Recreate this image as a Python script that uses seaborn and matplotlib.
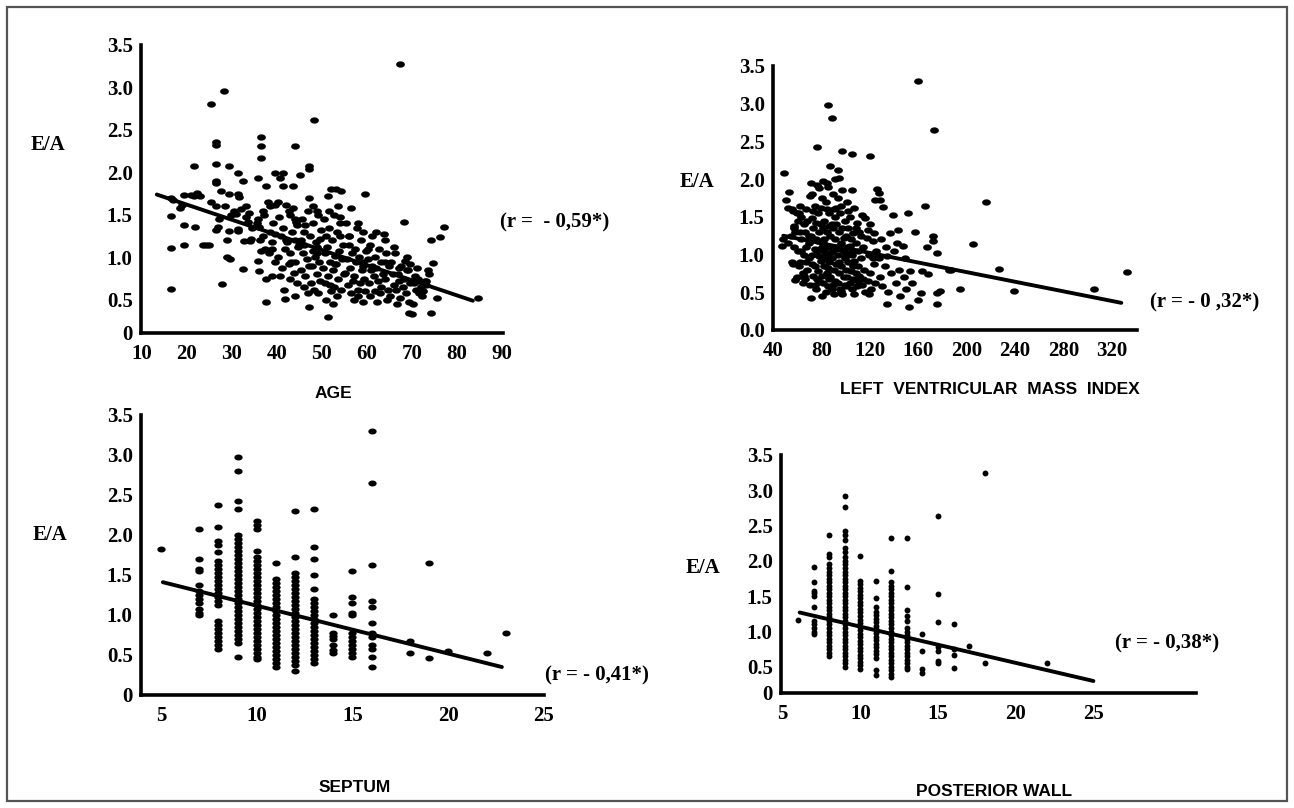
import numpy as np
import pandas as pd
import matplotlib
matplotlib.use("Agg")
import matplotlib.pyplot as plt
import seaborn as sns

# =========================
# painel 1: idade x E/A
# =========================
idade = [
    16.4, 16.4, 16.4, 16.4, 18.5, 18.8, 19.3, 19.4, 19.3, 17.0,
    21.5, 21.5, 22.3, 23.0, 21.8, 23.5, 24.2, 24.8, 21.0,
    25.3, 28.3, 26.4, 26.4, 26.4, 26.4, 26.4, 25.3, 26.4, 26.8, 26.4, 28.9, 28.9, 29.6, 27.9, 29.3, 29.3, 27.5, 28.5, 29.3, 27.2, 29.8,
    31.4, 32.5, 31.3, 31.6, 33.2, 31.4, 31.4, 33.2, 32.6, 34.0, 32.5, 33.5, 34.5, 30.5, 34.2, 32.0, 30.8, 33.8,
    35.7, 35.9, 36.5, 36.5, 36.5, 35.7, 37.6, 39.5, 37.6, 36.0, 38.4, 37.0, 35.8, 39.2, 38.5, 36.8, 39.0, 37.3, 36.5, 38.2,
    39.6, 37.5, 38.8, 36.2, 39.5, 39.5, 38.0, 37.2, 35.5, 38.9,
    41.3, 40.6, 41.3, 43.6, 44.1, 41.7, 43.9, 42.7, 40.5, 44.2, 41.3, 43.4, 40.9, 42.1, 44.6, 41.8, 43.0, 40.3, 42.6, 44.0,
    41.1, 43.7, 40.7, 42.9, 44.4, 41.5, 43.0, 44.0, 44.5, 40.2, 42.0, 43.5, 44.0, 44.8, 43.2, 42.3,
    45.2, 47.2, 47.2, 48.3, 47.2, 47.2, 46.8, 49.2, 45.6, 48.1, 46.3, 49.7, 47.4, 45.3, 48.7, 46.0, 49.0, 47.9, 45.8, 48.4,
    46.6, 49.4, 47.1, 45.4, 48.9, 46.2, 49.6, 47.6, 45.9, 48.2, 46.9, 49.1, 48.0, 49.0, 49.5, 46.0, 48.8, 47.8,
    51.3, 52.0, 54.3, 53.0, 51.3, 52.7, 50.4, 54.1, 51.6, 53.3, 50.9, 52.2, 54.7, 51.1, 53.8, 50.6, 52.9, 54.4, 51.8, 53.1,
    50.2, 52.4, 54.8, 51.4, 53.6, 50.7, 52.6, 54.2, 51.9, 53.4, 50.8, 52.5, 54.0, 53.5, 51.5, 54.0, 52.8, 51.8,
    59.5, 56.5, 55.4, 57.8, 59.2, 56.1, 58.6, 55.9, 57.3, 59.7, 56.7, 58.2, 55.6, 57.6, 59.1, 56.3, 58.9, 55.2, 57.1, 59.4,
    56.8, 58.4, 55.7, 57.9, 59.6, 56.4, 58.1, 57.2, 59.0, 58.0, 56.0, 59.0,
    63.8, 61.2, 63.9, 60.6, 62.7, 64.3, 61.8, 60.2, 63.2, 64.8, 62.1, 60.9, 63.6, 61.5, 64.1, 62.4, 60.4, 63.0, 64.6, 61.7,
    62.9, 60.7, 64.4, 62.2, 60.2, 62.0, 64.0, 61.0,
    68.3, 68.5, 68.8, 70.0, 69.3, 66.2, 68.9, 65.4, 67.6, 69.1, 66.8, 65.7, 68.2, 67.1, 69.6, 65.9, 67.9, 66.4, 68.6, 65.2,
    67.3, 69.4, 66.6, 67.4, 69.5, 67.0, 66.0,
    77.2, 76.1, 74.2, 74.6, 73.5, 84.6, 75.5, 74.2, 71.3, 72.8, 70.4, 73.2, 71.9, 70.9, 72.4, 73.7, 70.6, 71.6, 72.1, 73.0,
    70.2, 71.2,
]
ea_idade = [
    0.63, 1.11, 1.49, 1.70, 1.58, 1.62, 1.38, 1.15, 1.73, 1.68,
    2.07, 1.72, 1.76, 1.72, 1.36, 1.15, 1.14, 1.15, 1.74,
    2.80, 2.96, 2.36, 2.32, 2.10, 1.90, 1.87, 1.65, 1.60, 1.36, 1.32, 1.21, 1.01, 0.98, 0.69, 2.07, 1.75, 1.78, 1.60, 1.31, 1.45, 1.50,
    1.99, 1.90, 1.75, 1.71, 1.60, 1.33, 1.31, 1.47, 1.19, 1.19, 0.86, 1.42, 1.35, 1.55, 1.22, 1.57, 1.51, 1.52,
    0.96, 0.84, 2.42, 2.31, 2.17, 1.93, 1.84, 1.99, 0.47, 1.36, 1.30, 1.25, 1.45, 1.40, 1.60, 1.55, 1.10, 1.10, 1.08, 1.05,
    0.95, 0.75, 0.78, 1.20, 1.28, 1.62, 1.65, 1.50, 1.40, 1.18,
    1.99, 1.93, 1.84, 1.84, 2.31, 0.51, 0.55, 1.55, 1.48, 1.42, 1.35, 1.30, 1.25, 1.20, 1.12, 1.10, 1.05, 1.00, 0.92, 0.95,
    0.88, 0.82, 0.78, 0.75, 0.70, 0.62, 1.50, 1.45, 1.38, 1.65, 1.62, 1.58, 1.20, 1.15, 0.95, 1.18,
    1.97, 2.07, 2.04, 2.62, 1.70, 0.42, 1.55, 1.50, 1.45, 1.40, 1.38, 1.32, 1.25, 1.20, 1.18, 1.15, 1.12, 1.08, 1.05, 1.00,
    0.98, 0.95, 0.90, 0.85, 0.80, 0.78, 0.72, 0.70, 0.65, 0.62, 0.58, 0.58, 1.60, 1.55, 1.22, 1.30, 1.05, 0.90,
    1.72, 1.80, 1.78, 1.80, 0.30, 1.50, 1.45, 1.40, 1.35, 1.30, 1.25, 1.20, 1.15, 1.12, 1.08, 1.05, 1.02, 0.98, 0.95, 0.92,
    0.88, 0.85, 0.80, 0.78, 0.75, 0.70, 0.65, 0.62, 0.60, 0.55, 0.50, 0.45, 1.48, 1.60, 1.55, 1.25, 0.92, 0.68,
    1.75, 1.58, 1.40, 1.35, 1.30, 1.25, 1.20, 1.15, 1.10, 1.08, 1.05, 1.00, 0.98, 0.95, 0.90, 0.88, 0.85, 0.82, 0.78, 0.75,
    0.72, 0.70, 0.68, 0.62, 0.60, 0.58, 0.55, 0.50, 0.48, 1.40, 1.25, 0.95,
    1.27, 1.25, 1.20, 1.15, 1.10, 1.05, 1.00, 0.98, 0.95, 0.90, 0.88, 0.85, 0.80, 0.78, 0.75, 0.72, 0.70, 0.65, 0.62, 0.60,
    0.58, 0.55, 0.50, 0.48, 1.10, 1.30, 0.95, 0.90,
    1.42, 0.96, 0.85, 0.33, 0.35, 1.05, 1.00, 0.95, 0.90, 0.85, 0.80, 0.80, 0.75, 0.72, 0.70, 0.68, 0.65, 0.62, 0.58, 0.55,
    0.52, 0.48, 0.45, 3.28, 0.92, 0.88, 1.12,
    1.36, 1.24, 1.21, 0.93, 0.85, 0.52, 0.52, 0.35, 0.75, 0.72, 0.70, 0.68, 0.65, 0.62, 0.60, 0.80, 0.78, 0.58, 0.55, 0.72,
    0.45, 0.88,
]

# =========================
# painel 2: índice de massa do VE x E/A
# =========================
massa = [
    47, 48, 49, 50, 52, 53, 55, 56, 57, 57, 58, 55, 56, 58, 59, 59, 54, 57, 52, 60, 60,
    61, 62, 62, 63, 63, 64, 64, 65, 65, 66, 66, 67, 67, 68, 68, 69, 69, 70, 70, 61, 63, 65, 67, 69, 62,
    71, 71, 72, 72, 73, 73, 74, 74, 75, 75, 76, 76, 76, 77, 77, 78, 78, 79, 79, 80, 80, 80, 71, 72, 73, 74, 75, 76, 77, 78,
    79, 80, 72, 78, 74,
    81, 81, 81, 82, 82, 83, 83, 83, 84, 84, 85, 85, 85, 85, 86, 86, 87, 87, 87, 88, 88, 88, 89, 89, 89, 90, 90, 90, 81, 82,
    83, 84, 86, 86, 87, 89, 84, 88, 82, 85,
    91, 91, 91, 92, 92, 93, 93, 93, 94, 94, 94, 95, 95, 96, 96, 97, 97, 97, 97, 98, 98, 99, 99, 99, 100, 100, 91, 92, 93, 95,
    96, 98, 100, 94, 100, 96, 92,
    101, 101, 101, 102, 102, 103, 103, 104, 104, 105, 105, 105, 105, 106, 106, 107, 107, 108, 108, 109, 109, 110, 110, 102,
    104, 106, 108, 110, 103, 107,
    111, 111, 112, 113, 113, 114, 115, 116, 116, 117, 118, 119, 120, 120, 120, 121, 122, 123, 124, 124, 125, 112, 114, 118,
    122, 119, 123,
    126, 127, 127, 128, 129, 130, 131, 132, 133, 134, 135, 136, 137, 139, 140, 141, 143, 144, 145, 147, 148, 150, 151, 153,
    149, 128, 134, 142,
    152, 155, 157, 160, 162, 163, 165, 167, 168, 172, 172, 173, 175, 175, 175, 178, 185, 187, 194, 160,
    205, 216, 227, 239, 305, 333,
]
ea_massa = [
    1.12, 1.20, 2.08, 1.72, 1.62, 1.83, 1.60, 1.58, 1.35, 1.38, 1.30, 0.90, 0.88, 0.66, 0.70, 1.55, 1.25, 1.10, 1.15, 1.45, 1.05,
    0.85, 0.90, 1.65, 1.50, 1.20, 0.62, 0.75, 1.40, 1.00, 1.30, 0.68, 1.60, 1.10, 0.80, 1.45, 1.25, 0.95, 1.78, 0.60, 1.55,
    1.05, 0.72, 0.90, 1.15, 1.30,
    1.95, 0.43, 1.48, 1.00, 1.35, 0.72, 1.65, 0.85, 1.20, 0.55, 2.42, 1.92, 1.05, 1.55, 0.78, 1.30, 0.65, 1.40, 0.92, 1.75,
    1.10, 0.45, 1.25, 0.88, 1.58, 1.08, 1.42, 0.68, 1.18, 0.98, 1.62, 0.72, 1.80, 1.88, 0.60,
    1.98, 1.15, 0.62, 1.45, 0.85, 1.70, 1.00, 0.50, 1.30, 0.75, 2.98, 1.90, 1.10, 0.58, 1.55, 0.90, 2.17, 1.25, 0.70, 2.81,
    1.40, 0.95, 1.80, 1.05, 0.60, 1.60, 0.80, 0.48, 1.35, 1.20, 0.95, 1.60, 1.38, 0.68, 1.02, 1.35, 1.95, 0.55, 1.05, 0.82,
    2.00, 1.20, 0.65, 1.40, 0.88, 2.12, 1.75, 1.00, 2.01, 1.30, 0.75, 1.55, 0.55, 1.15, 0.85, 2.37, 1.85, 1.35, 0.48, 1.05,
    0.70, 1.45, 0.95, 0.60, 1.25, 0.80, 1.50, 1.10, 0.62, 1.08, 1.65, 1.22, 1.00, 0.90, 0.58, 0.52, 1.62,
    1.70, 1.10, 0.70, 1.35, 0.90, 1.50, 0.62, 1.20, 0.78, 2.33, 1.85, 1.00, 0.55, 1.28, 0.68, 1.62, 0.92, 1.15, 0.75, 1.42,
    0.58, 1.05, 0.85, 1.58, 1.02, 0.85, 1.35, 0.65, 1.12, 0.48,
    1.30, 0.72, 0.95, 1.52, 0.60, 1.10, 0.80, 1.49, 0.50, 1.22, 0.65, 1.00, 2.31, 1.40, 0.75, 0.55, 1.18, 0.88, 1.73, 0.62,
    1.05, 1.25, 0.68, 1.32, 0.95, 0.48, 1.28,
    1.87, 1.81, 0.95, 1.73, 1.20, 0.58, 1.63, 0.85, 1.10, 0.34, 0.50, 1.28, 0.75, 1.52, 1.05, 0.62, 1.33, 0.80, 0.45, 1.12,
    0.70, 0.55, 1.55, 0.78, 0.95, 0.70, 0.98, 1.15,
    0.30, 0.62, 1.30, 3.30, 0.49, 0.78, 1.64, 1.10, 0.74, 1.24, 1.18, 2.65, 1.02, 0.49, 0.35, 0.52, 0.79, 0.80, 0.55, 0.40,
    1.14, 1.70, 0.81, 0.52, 0.55, 0.77,
]

# =========================
# painel 3: septo (valores inteiros, uma coluna por valor)
# =========================
septo_valores = [5, 7, 8, 9, 10, 11, 12, 13, 14, 15, 16, 18, 19, 20, 22, 23]
septo_ea = [
    [1.83],
    [2.08, 1.70, 1.58, 1.55, 1.37, 1.30, 1.25, 1.20, 1.15, 1.08, 1.02, 1.00],
    [2.37, 2.10, 1.93, 1.87, 1.79, 1.68, 1.63, 1.58, 1.53, 1.48, 1.43, 1.38, 1.33, 1.28, 1.23, 1.18, 1.13,
     0.92, 0.87, 0.82, 0.77, 0.72, 0.67, 0.62, 0.58],
    [2.97, 2.80, 2.43, 2.32, 2.00, 1.95, 1.90, 1.85, 1.80, 1.75, 1.70, 1.65, 1.60, 1.55, 1.50, 1.45, 1.40,
     1.35, 1.30, 1.25, 1.20, 1.15, 1.10, 1.05, 1.00, 0.95, 0.90, 0.85, 0.80, 0.75, 0.70, 0.65, 0.47],
    [2.17, 2.12, 2.07, 1.80, 1.73, 1.68, 1.63, 1.58, 1.53, 1.48, 1.43, 1.38, 1.33, 1.28, 1.23, 1.18, 1.13,
     1.08, 1.03, 0.98, 0.93, 0.88, 0.83, 0.78, 0.73, 0.68, 0.63, 0.58, 0.53, 0.48, 0.45],
    [1.65, 1.45, 1.40, 1.35, 1.30, 1.25, 1.20, 1.15, 1.10, 1.05, 1.00, 0.95, 0.90, 0.85, 0.80, 0.75, 0.70,
     0.65, 0.60, 0.55, 0.50, 0.45, 0.40, 0.35],
    [2.30, 1.72, 1.52, 1.47, 1.42, 1.37, 1.32, 1.27, 1.22, 1.17, 1.12, 1.07, 1.02, 0.97, 0.92, 0.87, 0.82,
     0.77, 0.72, 0.67, 0.62, 0.57, 0.52, 0.47, 0.42, 0.37, 0.30],
    [2.33, 1.85, 1.70, 1.50, 1.32, 1.20, 1.15, 1.10, 1.05, 1.00, 0.95, 0.90, 0.85, 0.80, 0.75, 0.70, 0.65,
     0.60, 0.55, 0.50, 0.45, 0.40],
    [1.00, 0.78, 0.74, 0.70, 0.62, 0.56, 0.52],
    [1.55, 1.22, 1.15, 1.03, 1.00, 0.78, 0.73, 0.68, 0.63, 0.58, 0.52, 0.48],
    [3.30, 2.65, 1.62, 1.18, 1.10, 0.90, 0.78, 0.72, 0.62, 0.58, 0.48, 0.35],
    [0.68, 0.52],
    [1.65, 0.46],
    [0.55],
    [0.52],
    [0.77],
]

# =========================
# painel 4: parede posterior (valores inteiros)
# =========================
parede_valores = [6, 7, 8, 9, 10, 11, 12, 13, 14, 15, 16, 17, 18, 22]
parede_ea = [
    [1.17],
    [1.92, 1.70, 1.58, 1.55, 1.50, 1.35, 1.15, 1.10, 1.05, 1.00, 0.97],
    [2.37, 2.10, 2.05, 1.95, 1.90, 1.85, 1.80, 1.75, 1.70, 1.65, 1.60, 1.55, 1.50, 1.45, 1.40, 1.35, 1.30,
     1.25, 1.20, 1.15, 1.10, 1.05, 1.00, 0.95, 0.90, 0.85, 0.80, 0.75, 0.70, 0.66],
    [2.92, 2.77, 2.43, 2.37, 2.30, 2.18, 2.13, 2.05, 2.00, 1.95, 1.90, 1.85, 1.80, 1.75, 1.70, 1.65, 1.60,
     1.55, 1.50, 1.45, 1.40, 1.35, 1.30, 1.25, 1.20, 1.15, 1.10, 1.05, 1.00, 0.95, 0.90, 0.85, 0.80, 0.75,
     0.70, 0.65, 0.60, 0.55, 0.50],
    [2.07, 1.72, 1.67, 1.62, 1.57, 1.52, 1.47, 1.42, 1.37, 1.32, 1.27, 1.22, 1.17, 1.12, 1.07, 1.02, 0.97,
     0.92, 0.87, 0.82, 0.77, 0.72, 0.67, 0.62, 0.57, 0.52, 0.47],
    [1.72, 1.47, 1.35, 1.28, 1.23, 1.18, 1.13, 1.08, 1.03, 0.98, 0.93, 0.88, 0.83, 0.78, 0.73, 0.68, 0.62,
     0.45, 0.38],
    [2.32, 1.86, 1.70, 1.65, 1.60, 1.55, 1.50, 1.45, 1.40, 1.35, 1.30, 1.25, 1.20, 1.15, 1.10, 1.05, 1.00,
     0.95, 0.90, 0.85, 0.80, 0.75, 0.70, 0.65, 0.60, 0.55, 0.50, 0.45, 0.40, 0.35],
    [2.33, 1.63, 1.30, 1.22, 1.15, 1.05, 1.00, 0.95, 0.90, 0.85, 0.80, 0.75, 0.70, 0.65, 0.60, 0.55, 0.50,
     0.47],
    [0.97, 0.72, 0.47, 0.42],
    [2.63, 1.53, 1.13, 0.78, 0.73, 0.58, 0.55],
    [1.10, 0.75, 0.67, 0.48],
    [0.80],
    [3.25, 0.55],
    [0.55],
]

# retas de regressão (extremos)
reta_idade_x = [13.3, 83.5]
reta_idade_y = [1.74, 0.49]
reta_massa_x = [48, 328]
reta_massa_y = [1.25, 0.36]
reta_septo_x = [5.1, 22.8]
reta_septo_y = [1.41, 0.35]
reta_parede_x = [6.1, 25.0]
reta_parede_y = [1.27, 0.30]

# =========================
# montagem das tabelas
# =========================
df_idade = pd.DataFrame({"x": idade, "ea": ea_idade})
df_massa = pd.DataFrame({"x": massa, "ea": ea_massa})


def colunas_para_df(valores, listas):
    xs, ys = [], []
    for v, lista in zip(valores, listas):
        xs += [v] * len(lista)
        ys += lista
    return pd.DataFrame({"x": xs, "ea": ys})


df_septo = colunas_para_df(septo_valores, septo_ea)
df_parede = colunas_para_df(parede_valores, parede_ea)

# =========================
# estilo
# =========================
sns.set_style("white")
plt.rcParams["text.color"] = "black"
plt.rcParams["axes.labelcolor"] = "black"
plt.rcParams["xtick.color"] = "black"
plt.rcParams["ytick.color"] = "black"
serif = "Liberation Serif"
sans = "Liberation Sans"

W, H = 1294, 808
fig = plt.figure(figsize=(W / 100, H / 100), dpi=100)


def caixa(esq, dir, topo, base):
    return [esq / W, 1 - base / H, (dir - esq) / W, (base - topo) / H]


def texto(x, y, s, **kw):
    fig.text(x / W, 1 - y / H, s, color="black", **kw)


# marcador em forma de elipse (pontos achatados como no original)
t = np.linspace(0, 2 * np.pi, 24)
elipse = list(zip(np.cos(t), 0.72 * np.sin(t)))


def painel(pos, df, reta_x, reta_y, xlim, ylim, xticks, yticks, ylabels, tam, marcador, fs=15):
    ax = fig.add_axes(pos)
    sns.scatterplot(data=df, x="x", y="ea", ax=ax, color="black", s=tam,
                    marker=marcador, linewidth=0, legend=False)
    sns.lineplot(x=reta_x, y=reta_y, ax=ax, color="black", linewidth=2.8,
                 estimator=None, sort=False)
    ax.set_xlim(*xlim)
    ax.set_ylim(*ylim)
    ax.set_xticks(xticks)
    ax.set_xticklabels([str(v) for v in xticks], fontfamily=serif,
                       fontweight="bold", fontsize=fs, color="black")
    ax.set_yticks(yticks)
    ax.set_yticklabels(ylabels, fontfamily=serif, fontweight="bold",
                       fontsize=fs, color="black")
    ax.set_xlabel("")
    ax.set_ylabel("")
    for lado in ["top", "right"]:
        ax.spines[lado].set_visible(False)
    for lado in ["left", "bottom"]:
        ax.spines[lado].set_linewidth(2.6)
        ax.spines[lado].set_color("black")
    ax.tick_params(axis="x", direction="out", length=5, width=2.2, pad=3, colors="black")
    ax.tick_params(axis="y", direction="out", length=3, width=2.2, pad=3, colors="black")
    ax.patch.set_visible(False)
    return ax


rot_y = ["0.5", "1.0", "1.5", "2.0", "2.5", "3.0", "3.5"]
val_y = [0.5, 1.0, 1.5, 2.0, 2.5, 3.0, 3.5]

# painel 1
painel(caixa(141, 503, 45, 333), df_idade, reta_idade_x, reta_idade_y,
       (9.8, 90.2), (0.11, 3.5), list(range(10, 100, 10)),
       [0.11] + val_y, ["0"] + rot_y, 40, elipse)

# painel 2
painel(caixa(773, 1137, 66, 330), df_massa, reta_massa_x, reta_massa_y,
       (39.5, 341), (0, 3.5), list(range(40, 360, 40)),
       [0.0] + val_y, ["0.0"] + rot_y, 40, elipse)

# painel 3
painel(caixa(141, 544, 415, 695), df_septo, reta_septo_x, reta_septo_y,
       (3.96, 25), (0, 3.5), [5, 10, 15, 20, 25],
       [0.0] + val_y, ["0"] + rot_y, 36, elipse)

# painel 4
painel(caixa(781, 1196, 455, 693), df_parede, reta_parede_x, reta_parede_y,
       (4.9, 31.6), (0.13, 3.5), [5, 10, 15, 20, 25],
       [0.13] + val_y, ["0"] + rot_y, 18, "o")

# rótulos E/A
for (x, y) in [(48, 145), (697, 182), (50, 535), (703, 568)]:
    texto(x, y, "E/A", ha="center", va="center", fontfamily=serif,
          fontweight="bold", fontsize=15)

# coeficientes de correlação
texto(500, 222, "(r =  - 0,59*)", ha="left", va="center", fontfamily=serif,
      fontweight="bold", fontsize=15)
texto(1150, 302, "(r = - 0 ,32*)", ha="left", va="center", fontfamily=serif,
      fontweight="bold", fontsize=15)
texto(545, 675, "(r = - 0,41*)", ha="left", va="center", fontfamily=serif,
      fontweight="bold", fontsize=15)
texto(1115, 643, "(r = - 0,38*)", ha="left", va="center", fontfamily=serif,
      fontweight="bold", fontsize=15)

# nomes dos eixos x
texto(333, 393, "AGE", ha="center", va="center", fontfamily=sans,
      fontweight="bold", fontsize=12.5)
texto(990, 390, "LEFT  VENTRICULAR  MASS  INDEX", ha="center", va="center",
      fontfamily=sans, fontweight="bold", fontsize=12.5)
texto(355, 788, "SEPTUM", ha="center", va="center", fontfamily=sans,
      fontweight="bold", fontsize=12.5)
texto(994, 792, "POSTERIOR WALL", ha="center", va="center", fontfamily=sans,
      fontweight="bold", fontsize=12.5)

# moldura externa
moldura = plt.Rectangle((7 / W, 1 - 801 / H), 1280 / W, 794 / H,
                        transform=fig.transFigure, fill=False,
                        edgecolor="#555555", linewidth=1.6)
fig.patches.append(moldura)

fig.savefig("out.png", dpi=100, facecolor="white")
